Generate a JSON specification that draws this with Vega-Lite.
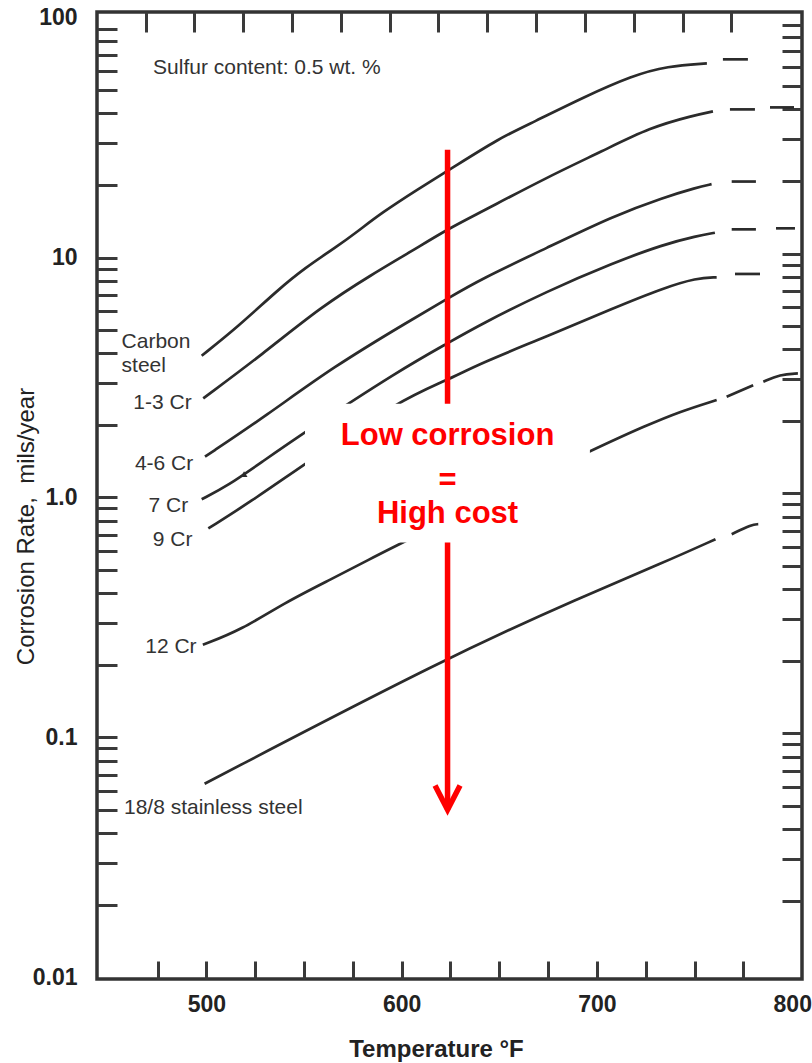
{
  "$schema": "https://vega.github.io/schema/vega-lite/v6.json",
  "width": 705,
  "height": 967,
  "autosize": {"type": "none"},
  "padding": {"left": 97, "top": 12, "right": 10, "bottom": 84},
  "background": "white",
  "datasets": {
    "curves": [
      {"seg": "Carbon steel", "T": 497.6, "rate": 3.90},
      {"seg": "Carbon steel", "T": 516.3, "rate": 5.16},
      {"seg": "Carbon steel", "T": 536.8, "rate": 7.36},
      {"seg": "Carbon steel", "T": 550.5, "rate": 9.06},
      {"seg": "Carbon steel", "T": 565.9, "rate": 10.98},
      {"seg": "Carbon steel", "T": 577.8, "rate": 12.91},
      {"seg": "Carbon steel", "T": 588.9, "rate": 15.21},
      {"seg": "Carbon steel", "T": 609.4, "rate": 19.54},
      {"seg": "Carbon steel", "T": 623.6, "rate": 23.0},
      {"seg": "Carbon steel", "T": 650.3, "rate": 31.6},
      {"seg": "Carbon steel", "T": 667.2, "rate": 36.6},
      {"seg": "Carbon steel", "T": 692.8, "rate": 46.5},
      {"seg": "Carbon steel", "T": 718.4, "rate": 57.5},
      {"seg": "Carbon steel", "T": 735.9, "rate": 62.8},
      {"seg": "Carbon steel", "T": 756.3, "rate": 64.6},
      {"seg": "Carbon steel d1", "T": 764.5, "rate": 67.1},
      {"seg": "Carbon steel d1", "T": 777.3, "rate": 67.1},
      {"seg": "1-3 Cr", "T": 498.4, "rate": 2.59},
      {"seg": "1-3 Cr", "T": 528.3, "rate": 3.93},
      {"seg": "1-3 Cr", "T": 559.0, "rate": 6.26},
      {"seg": "1-3 Cr", "T": 584.7, "rate": 8.50},
      {"seg": "1-3 Cr", "T": 605.1, "rate": 10.64},
      {"seg": "1-3 Cr", "T": 623.6, "rate": 13.16},
      {"seg": "1-3 Cr", "T": 640.1, "rate": 15.40},
      {"seg": "1-3 Cr", "T": 674.3, "rate": 21.6},
      {"seg": "1-3 Cr", "T": 703.2, "rate": 27.9},
      {"seg": "1-3 Cr", "T": 727.2, "rate": 34.9},
      {"seg": "1-3 Cr", "T": 749.2, "rate": 39.1},
      {"seg": "1-3 Cr", "T": 759.4, "rate": 40.7},
      {"seg": "1-3 Cr d1", "T": 768.1, "rate": 41.5},
      {"seg": "1-3 Cr d1", "T": 780.9, "rate": 41.5},
      {"seg": "1-3 Cr d2", "T": 788.6, "rate": 42.3},
      {"seg": "1-3 Cr d2", "T": 800.9, "rate": 42.3},
      {"seg": "4-6 Cr", "T": 499.3, "rate": 1.48},
      {"seg": "4-6 Cr", "T": 530.9, "rate": 2.20},
      {"seg": "4-6 Cr", "T": 565.0, "rate": 3.51},
      {"seg": "4-6 Cr", "T": 605.1, "rate": 5.51},
      {"seg": "4-6 Cr", "T": 623.6, "rate": 6.76},
      {"seg": "4-6 Cr", "T": 640.1, "rate": 8.10},
      {"seg": "4-6 Cr", "T": 674.3, "rate": 10.98},
      {"seg": "4-6 Cr", "T": 708.4, "rate": 14.92},
      {"seg": "4-6 Cr", "T": 734.0, "rate": 17.80},
      {"seg": "4-6 Cr", "T": 751.1, "rate": 19.60},
      {"seg": "4-6 Cr", "T": 758.7, "rate": 20.25},
      {"seg": "4-6 Cr d1", "T": 769.0, "rate": 20.76},
      {"seg": "4-6 Cr d1", "T": 781.4, "rate": 20.76},
      {"seg": "7 Cr", "T": 497.6, "rate": 0.983},
      {"seg": "7 Cr", "T": 511.2, "rate": 1.122},
      {"seg": "7 Cr", "T": 528.3, "rate": 1.404},
      {"seg": "7 Cr", "T": 550.5, "rate": 1.876},
      {"seg": "7 Cr", "T": 599.1, "rate": 3.40},
      {"seg": "7 Cr", "T": 623.6, "rate": 4.40},
      {"seg": "7 Cr", "T": 640.1, "rate": 5.25},
      {"seg": "7 Cr", "T": 674.3, "rate": 7.24},
      {"seg": "7 Cr", "T": 708.4, "rate": 9.51},
      {"seg": "7 Cr", "T": 734.0, "rate": 11.35},
      {"seg": "7 Cr", "T": 751.1, "rate": 12.30},
      {"seg": "7 Cr", "T": 760.4, "rate": 12.70},
      {"seg": "7 Cr d1", "T": 769.0, "rate": 13.12},
      {"seg": "7 Cr d1", "T": 781.4, "rate": 13.12},
      {"seg": "7 Cr d2", "T": 791.7, "rate": 13.25},
      {"seg": "7 Cr d2", "T": 801.4, "rate": 13.25},
      {"seg": "9 Cr", "T": 501.0, "rate": 0.743},
      {"seg": "9 Cr", "T": 522.3, "rate": 0.955},
      {"seg": "9 Cr", "T": 550.5, "rate": 1.381},
      {"seg": "9 Cr", "T": 599.1, "rate": 2.55},
      {"seg": "9 Cr", "T": 623.6, "rate": 3.09},
      {"seg": "9 Cr", "T": 640.1, "rate": 3.62},
      {"seg": "9 Cr", "T": 674.3, "rate": 4.69},
      {"seg": "9 Cr", "T": 708.4, "rate": 6.16},
      {"seg": "9 Cr", "T": 734.0, "rate": 7.47},
      {"seg": "9 Cr", "T": 751.1, "rate": 8.23},
      {"seg": "9 Cr", "T": 761.3, "rate": 8.28},
      {"seg": "9 Cr d1", "T": 770.7, "rate": 8.55},
      {"seg": "9 Cr d1", "T": 783.5, "rate": 8.55},
      {"seg": "12 Cr", "T": 498.2, "rate": 0.243},
      {"seg": "12 Cr", "T": 518.0, "rate": 0.281},
      {"seg": "12 Cr", "T": 540.0, "rate": 0.364},
      {"seg": "12 Cr", "T": 563.8, "rate": 0.456},
      {"seg": "12 Cr", "T": 583.7, "rate": 0.553},
      {"seg": "12 Cr", "T": 599.6, "rate": 0.645},
      {"seg": "12 Cr", "T": 697.4, "rate": 1.58},
      {"seg": "12 Cr", "T": 725.5, "rate": 2.00},
      {"seg": "12 Cr", "T": 742.5, "rate": 2.28},
      {"seg": "12 Cr", "T": 761.3, "rate": 2.55},
      {"seg": "12 Cr d1", "T": 766.4, "rate": 2.63},
      {"seg": "12 Cr d1", "T": 780.0, "rate": 2.94},
      {"seg": "12 Cr d2", "T": 785.2, "rate": 3.04},
      {"seg": "12 Cr d2", "T": 793.7, "rate": 3.26},
      {"seg": "12 Cr d2", "T": 802.9, "rate": 3.29},
      {"seg": "18/8 stainless steel", "T": 499.1, "rate": 0.0641},
      {"seg": "18/8 stainless steel", "T": 623.5, "rate": 0.216},
      {"seg": "18/8 stainless steel", "T": 693.1, "rate": 0.388},
      {"seg": "18/8 stainless steel", "T": 734.0, "rate": 0.535},
      {"seg": "18/8 stainless steel", "T": 760.7, "rate": 0.670},
      {"seg": "18/8 stainless steel d1", "T": 769.0, "rate": 0.703},
      {"seg": "18/8 stainless steel d1", "T": 779.4, "rate": 0.772},
      {"seg": "18/8 stainless steel d1", "T": 782.6, "rate": 0.774}
    ],
    "rightLabels": [
      {"label": "1-3 Cr", "T": 492.5, "rate": 2.349},
      {"label": "4-6 Cr", "T": 493.3, "rate": 1.296},
      {"label": "7 Cr", "T": 490.7, "rate": 0.873},
      {"label": "9 Cr", "T": 492.9, "rate": 0.629},
      {"label": "12 Cr", "T": 495.0, "rate": 0.2247}
    ],
    "leftLabels": [
      {"label": "Carbon", "T": 456.6, "rate": 4.188},
      {"label": "steel", "T": 456.6, "rate": 3.345},
      {"label": "18/8 stainless steel", "T": 457.8, "rate": 0.048},
      {"label": "Sulfur content: 0.5 wt. %", "T": 472.7, "rate": 58.5}
    ],
    "barb": [{"T": 518.9, "rate": 1.235}],
    "arrow": [
      {"part": "shaft", "ord": 1, "T": 623.5, "rate": 28.2},
      {"part": "shaft", "ord": 2, "T": 623.5, "rate": 0.0499},
      {"part": "head", "ord": 1, "T": 617.1, "rate": 0.063},
      {"part": "head", "ord": 2, "T": 623.5, "rate": 0.0499},
      {"part": "head", "ord": 3, "T": 629.9, "rate": 0.063}
    ],
    "box": [{"T1": 550.5, "T2": 696.4, "r1": 0.6493, "r2": 2.457}],
    "boxText": [
      {"text": "Low corrosion", "T": 623.5, "rate": 1.654},
      {"text": "=", "T": 623.5, "rate": 1.072},
      {"text": "High cost", "T": 623.5, "rate": 0.78}
    ]
  },
  "layer": [
    {
      "data": {"name": "curves"},
      "mark": {"type": "line", "color": "#2b2b2b", "strokeWidth": 2.7, "interpolate": "basis"},
      "encoding": {
        "x": {
          "field": "T", "type": "quantitative",
          "scale": {"domain": [444, 805], "nice": false, "zero": false},
          "axis": {
            "orient": "bottom",
            "values": [475, 500, 525, 550, 575, 600, 625, 650, 675, 700, 725, 750, 775, 800],
            "tickSize": -18,
            "tickOpacity": {"condition": {"test": "datum.value == 800", "value": 0}, "value": 1},
            "labelExpr": "datum.value % 100 == 0 ? datum.label : ''",
            "labelPadding": 32,
            "labelFlush": false,
            "labelOverlap": false,
            "title": "Temperature °F",
            "titleFontSize": 24,
            "titleFontWeight": "bold",
            "titleX": 339,
            "titleY": 77,
            "titleAlign": "center",
            "titleBaseline": "alphabetic"
          }
        },
        "y": {
          "field": "rate", "type": "quantitative",
          "scale": {"type": "log", "domain": [0.00983, 105.7], "nice": false},
          "axis": {
            "orient": "left",
            "values": [0.01, 0.02, 0.03, 0.04, 0.05, 0.06, 0.07, 0.08, 0.09, 0.1, 0.2, 0.3, 0.4, 0.5, 0.6, 0.7, 0.8, 0.9, 1, 2, 3, 4, 5, 6, 7, 8, 9, 10, 20, 30, 40, 50, 60, 70, 80, 90, 100],
            "tickSize": -20,
            "tickOpacity": {"condition": {"test": "datum.value == 100 || datum.value == 0.01", "value": 0}, "value": 1},
            "labelExpr": "datum.value == 100 ? '100' : datum.value == 10 ? '10' : datum.value == 1 ? '1.0' : datum.value == 0.1 ? '0.1' : datum.value == 0.01 ? '0.01' : ''",
            "labelPadding": 40,
            "labelFlush": false,
            "labelOverlap": false,
            "labelBaseline": "middle",
            "title": "Corrosion Rate,\u00a0 mils/year",
            "titleFontSize": 24,
            "titleFontWeight": "normal",
            "titleX": -64,
            "titleY": 514,
            "titleAlign": "center",
            "titleBaseline": "alphabetic",
            "titleAngle": -90
          }
        },
        "detail": {"field": "seg", "type": "nominal"}
      }
    },
    {
      "data": {"name": "barb"},
      "mark": {"type": "point", "shape": "triangle-left", "filled": true, "color": "#2b2b2b", "size": 45, "angle": 329, "opacity": 1},
      "encoding": {
        "x": {"field": "T", "type": "quantitative", "scale": {"domain": [444, 805], "nice": false, "zero": false}, "axis": null},
        "y": {"field": "rate", "type": "quantitative", "scale": {"type": "log", "domain": [0.00983, 105.7], "nice": false}, "axis": null}
      }
    },
    {
      "data": {"name": "rightLabels"},
      "mark": {"type": "text", "align": "right", "baseline": "alphabetic", "fontSize": 21, "color": "#333333", "font": "Liberation Sans"},
      "encoding": {
        "x": {
          "field": "T", "type": "quantitative",
          "scale": {"domain": [444, 805], "nice": false, "zero": false},
          "axis": {
            "orient": "top",
            "values": [475, 500, 525, 550, 575, 600, 625, 650, 675, 700, 725, 750, 775],
            "tickSize": -20,
            "tickOffset": -12,
            "labels": false,
            "title": null
          }
        },
        "y": {
          "field": "rate", "type": "quantitative",
          "scale": {"type": "log", "domain": [0.00983, 105.7], "nice": false},
          "axis": {
            "orient": "right",
            "values": [0.02, 0.03, 0.04, 0.05, 0.06, 0.07, 0.08, 0.09, 0.1, 0.2, 0.3, 0.4, 0.5, 0.6, 0.7, 0.8, 0.9, 1, 2, 3, 4, 5, 6, 7, 8, 9, 10, 20, 30, 40, 50, 60, 70, 80, 90],
            "tickSize": -20,
            "tickOffset": -4,
            "labels": false,
            "title": null
          }
        },
        "text": {"field": "label", "type": "nominal"}
      }
    },
    {
      "data": {"name": "leftLabels"},
      "mark": {"type": "text", "align": "left", "baseline": "alphabetic", "fontSize": 21, "color": "#333333", "font": "Liberation Sans"},
      "encoding": {
        "x": {"field": "T", "type": "quantitative", "scale": {"domain": [444, 805], "nice": false, "zero": false}, "axis": null},
        "y": {"field": "rate", "type": "quantitative", "scale": {"type": "log", "domain": [0.00983, 105.7], "nice": false}, "axis": null},
        "text": {"field": "label", "type": "nominal"}
      }
    },
    {
      "data": {"name": "arrow"},
      "mark": {"type": "line", "color": "#ff0000", "strokeWidth": 5.5, "strokeJoin": "miter"},
      "encoding": {
        "x": {"field": "T", "type": "quantitative", "scale": {"domain": [444, 805], "nice": false, "zero": false}, "axis": null},
        "y": {"field": "rate", "type": "quantitative", "scale": {"type": "log", "domain": [0.00983, 105.7], "nice": false}, "axis": null},
        "detail": {"field": "part", "type": "nominal"},
        "order": {"field": "ord", "type": "quantitative"}
      }
    },
    {
      "data": {"name": "box"},
      "mark": {"type": "rect", "color": "white", "opacity": 1},
      "encoding": {
        "x": {"field": "T1", "type": "quantitative", "scale": {"domain": [444, 805], "nice": false, "zero": false}, "axis": null},
        "x2": {"field": "T2"},
        "y": {"field": "r1", "type": "quantitative", "scale": {"type": "log", "domain": [0.00983, 105.7], "nice": false}, "axis": null},
        "y2": {"field": "r2"}
      }
    },
    {
      "data": {"name": "boxText"},
      "mark": {"type": "text", "align": "center", "baseline": "alphabetic", "fontSize": 31, "fontWeight": "bold", "color": "#ff0000", "font": "Liberation Sans"},
      "encoding": {
        "x": {"field": "T", "type": "quantitative", "scale": {"domain": [444, 805], "nice": false, "zero": false}, "axis": null},
        "y": {"field": "rate", "type": "quantitative", "scale": {"type": "log", "domain": [0.00983, 105.7], "nice": false}, "axis": null},
        "text": {"field": "text", "type": "nominal"}
      }
    }
  ],
  "resolve": {"axis": {"x": "independent", "y": "independent"}},
  "config": {
    "view": {"stroke": "#333333", "strokeWidth": 3.5},
    "font": "Liberation Sans",
    "axis": {
      "domain": false,
      "grid": false,
      "tickColor": "#3a3a3a",
      "tickWidth": 3,
      "labelFont": "Liberation Sans",
      "labelFontSize": 23,
      "labelFontWeight": "bold",
      "labelColor": "#222222",
      "titleColor": "#222222",
      "titleFont": "Liberation Sans"
    }
  }
}
